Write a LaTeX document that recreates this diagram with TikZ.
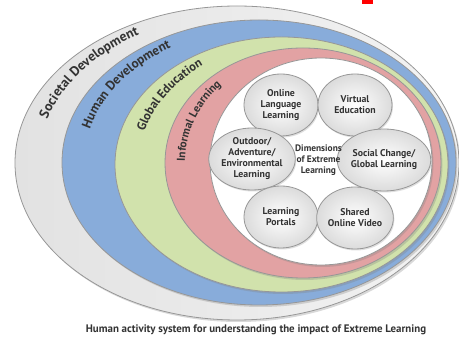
\documentclass[tikz,border=0pt]{standalone}
\usepackage{fontspec}
\setmainfont{PT Sans}
\usepackage{xcolor}
\usepackage{tikz}
\usetikzlibrary{shapes,positioning,decorations.text,shadows}

\definecolor{ringgray}{HTML}{E2E2E2}
\definecolor{ringblue}{HTML}{88ACDA}
\definecolor{ringgreen}{HTML}{D1E2AC}
\definecolor{ringred}{HTML}{E2A2A3}
\definecolor{rimgray}{HTML}{979797}
\definecolor{labelgray}{HTML}{333333}

\begin{document}
\begin{tikzpicture}[x=1pt, y=1pt,
    ring/.style={draw=rimgray, line width=0.8pt,
        drop shadow={shadow xshift=1.5pt, shadow yshift=-2pt, opacity=0.3}},
    bubble/.style={draw=rimgray, ellipse, line width=0.8pt, minimum width=74pt,
        minimum height=62pt, inner sep=0pt, inner color=white, outer color=gray!28,
        align=center, text=labelgray, font=\fontsize{9.8}{11}\selectfont\bfseries,
        drop shadow={shadow xshift=1pt, shadow yshift=-1.5pt, opacity=0.25}},
    ringtext/.style={decorate, decoration={text along path, text align=center,
        text color=labelgray}}]
    \useasboundingbox (0,0) rectangle (459,337);

    % rings, outer to inner
    \path [ring, left color=ringgray, right color=ringgray!40] (237,174) ellipse [x radius=222, y radius=157];
    \path [ring, fill=ringblue] (259,174.5) ellipse [x radius=197, y radius=142.5];
    \path [ring, fill=ringgreen] (281.5,172.5) ellipse [x radius=166.5, y radius=127.5];
    \path [ring, fill=ringred] (303,174) ellipse [x radius=138, y radius=115];
    \path [ring, fill=white] (321,175.5) ellipse [x radius=111, y radius=103.5];

    % ring labels
    \path [ringtext, decoration={text={|\fontsize{13.6}{15}\selectfont\bfseries|Societal Development}}]
        (248,174) ++(175:210 and 150) arc [start angle=175, end angle=112, x radius=210, y radius=150];
    \path [ringtext, decoration={text={|\fontsize{13.1}{15}\selectfont\bfseries|Human Development}}]
        (270,174) ++(176:186 and 136) arc [start angle=176, end angle=114, x radius=186, y radius=136];
    \path [ringtext, decoration={text={|\fontsize{12.5}{14}\selectfont\bfseries|Global Education}}]
        (292,173) ++(176:153 and 121) arc [start angle=176, end angle=116, x radius=153, y radius=121];
    \path [ringtext, decoration={text={|\fontsize{11.4}{13}\selectfont\bfseries|Informal Learning}}]
        (312,175) ++(190:127 and 110) arc [start angle=190, end angle=126, x radius=127, y radius=110];

    % dimensions
    \node [bubble] (onlinelang) at (281,232) {Online\\Language\\Learning};
    \node [bubble] (virtual) at (355,232) {Virtual\\Education};
    \node [bubble] (outdoor) at (252,178) {Outdoor/\\Adventure/\\Environmental\\Learning};
    \node [bubble] (social) at (384,177) {Social Change/\\Global Learning};
    \node [bubble] (portals) at (281,120) {Learning\\Portals};
    \node [bubble] (video) at (355,119) {Shared\\Online Video};
    \node [align=center, text=labelgray, font=\fontsize{9.4}{11}\selectfont\bfseries] (dims) at (318.5,177) {Dimensions\\of Extreme\\Learning};

    \node [text=labelgray, font=\fontsize{10.9}{12}\selectfont\bfseries] (caption) at (256,7)
        {Human activity system for understanding the impact of Extreme Learning};
    \fill [red] (362,333) rectangle (373,337);
\end{tikzpicture}
\end{document}
